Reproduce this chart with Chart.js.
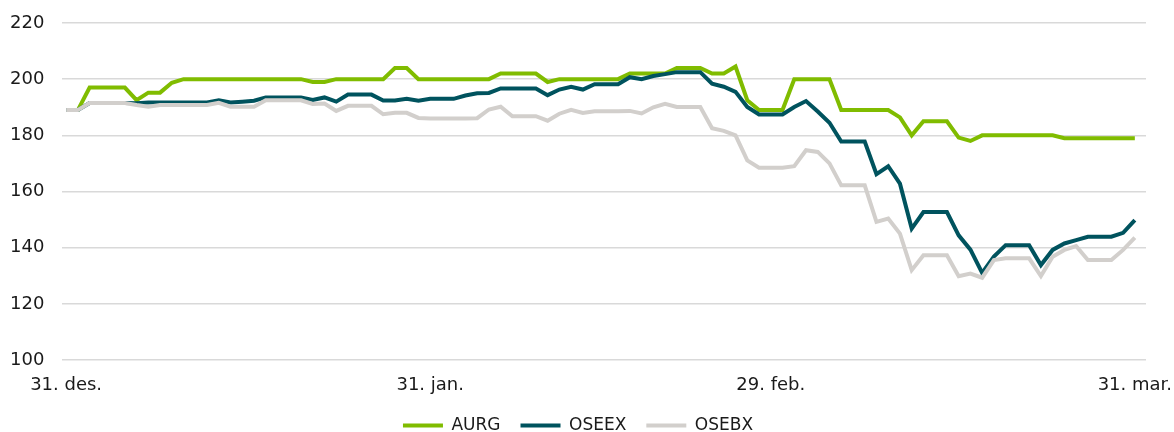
<!DOCTYPE html>
<html>
<head>
<meta charset="utf-8">
<script src="https://cdn.jsdelivr.net/npm/chart.js@4/dist/chart.umd.min.js"></script>
<style>
  html, body { margin: 0; padding: 0; background: #ffffff; }
  #wrap { width: 1174px; height: 432px; position: relative; }
</style>
</head>
<body>
<div id="wrap"><canvas id="c" width="1174" height="432"></canvas></div>
<script>
// Daily observations 31.12.2019 – 31.03.2020 (weekends carry the previous close)
const startDate = new Date(2019, 11, 31);
const dates = [];
for (let i = 0; i < 92; i++) {
  const d = new Date(startDate.getTime());
  d.setDate(d.getDate() + i);
  dates.push(d.toISOString().slice(0, 10));
}

const tickIndex  = [0, 31, 60, 91];
const tickLabels = ['31. des.', '31. jan.', '29. feb.', '31. mar.'];

const seriesNames = ['AURG', 'OSEEX', 'OSEBX'];

const AURG = [
  189, 189, 197, 197, 197, 197, 192.5, 195.2, 195.2, 198.7,
  200, 200, 200, 200, 200, 200, 200, 200, 200, 200,
  200, 199, 199, 200, 200, 200, 200, 200, 204, 204,
  200, 200, 200, 200, 200, 200, 200, 202, 202, 202,
  202, 199, 200, 200, 200, 200, 200, 200, 202, 202,
  202, 202, 204, 204, 204, 202, 202, 204.5, 192.5, 189,
  189, 189, 200, 200, 200, 200, 189, 189, 189, 189,
  189, 186.4, 180, 185, 185, 185, 179.2, 178, 180, 180,
  180, 180, 180, 180, 180, 179, 179, 179, 179, 179,
  179, 179
];

const OSEEX = [
  189, 189, 191.5, 191.5, 191.5, 191.5, 191.4, 191.7, 191.7, 191.7,
  191.7, 191.7, 191.7, 192.5, 191.7, 192, 192.3, 193.5, 193.5, 193.5,
  193.5, 192.6, 193.5, 192, 194.5, 194.5, 194.5, 192.4, 192.4, 193,
  192.3, 193, 193, 193, 194.2, 195, 195.1, 196.7, 196.7, 196.7,
  196.7, 194.3, 196.3, 197.3, 196.3, 198.2, 198.2, 198.2, 200.7, 200,
  201.1, 201.8, 202.5, 202.5, 202.5, 198.4, 197.3, 195.5, 190.1, 187.4,
  187.4, 187.4, 190.1, 192.2, 188.5, 184.5, 177.8, 177.8, 177.8, 166.2,
  169, 162.8, 146.8, 152.7, 152.7, 152.7, 144.4, 139.3, 131, 136.8,
  140.9, 140.9, 140.9, 133.8, 139.2, 141.5, 142.7, 143.9, 143.9, 143.9,
  145.3, 149.8
];

const OSEBX = [
  189, 189, 191.5, 191.5, 191.5, 191.5, 190.8, 190.2, 190.8, 190.8,
  190.8, 190.8, 190.8, 191.6, 190.2, 190.2, 190.2, 192.5, 192.5, 192.5,
  192.5, 191.2, 191.3, 188.7, 190.5, 190.5, 190.5, 187.5, 188, 188,
  186.2, 186, 186, 186, 186, 186.1, 189.2, 190.2, 186.8, 186.8,
  186.8, 185.2, 187.7, 189.1, 188, 188.6, 188.6, 188.6, 188.7, 187.8,
  190, 191.2, 190.1, 190.1, 190.1, 182.5, 181.6, 180, 171.1, 168.5,
  168.5, 168.5, 169, 174.7, 174.1, 170, 162.2, 162.2, 162.2, 149.2,
  150.4, 145, 132, 137.3, 137.3, 137.3, 129.8, 130.8, 129.3, 135.6,
  136.2, 136.2, 136.2, 129.9, 136.8, 139.2, 140.6, 135.6, 135.6, 135.6,
  139.2, 143.6
];

const yMin = 100, yMax = 220, yStep = 20;

const toPoints = arr => arr.map((v, i) => ({ x: i, y: v }));
const FONT = "'DejaVu Sans', sans-serif";

new Chart(document.getElementById('c'), {
  type: 'line',
  data: {
    datasets: [
      { label: seriesNames[0], data: toPoints(AURG),  borderColor: '#80bc00', backgroundColor: '#80bc00', borderWidth: 4, order: 3 },
      { label: seriesNames[1], data: toPoints(OSEEX), borderColor: '#00535e', backgroundColor: '#00535e', borderWidth: 4, order: 2 },
      { label: seriesNames[2], data: toPoints(OSEBX), borderColor: '#d2cfcc', backgroundColor: '#d2cfcc', borderWidth: 4, order: 1 }
    ]
  },
  options: {
    responsive: false,
    animation: false,
    devicePixelRatio: 1,
    layout: { padding: { top: 23, right: 28, bottom: -12, left: 10 } },
    elements: {
      line: { borderWidth: 4, tension: 0, borderJoinStyle: 'miter', borderCapStyle: 'butt', fill: false },
      point: { radius: 0, hoverRadius: 0 }
    },
    scales: {
      x: {
        type: 'linear',
        min: -0.35,
        max: 91.95,
        grid: { display: false, drawTicks: true, tickLength: 15 },
        border: { display: false },
        afterBuildTicks: s => { s.ticks = tickIndex.map(v => ({ value: v })); },
        afterFit: s => { s.height = 37; },
        ticks: {
          autoSkip: false,
          maxRotation: 0,
          padding: 0,
          color: '#1a1a1a',
          font: { family: FONT, size: 18 },
          callback: v => { const k = tickIndex.indexOf(v); return k >= 0 ? tickLabels[k] : ''; }
        }
      },
      y: {
        min: yMin,
        max: yMax,
        grid: { color: '#d9d9d9', lineWidth: 1.5, drawTicks: false },
        border: { display: false },
        afterFit: s => { s.width = 52; },
        ticks: {
          stepSize: yStep,
          padding: 0,
          crossAlign: 'far',
          color: '#1a1a1a',
          font: { family: FONT, size: 18 }
        }
      }
    },
    plugins: {
      legend: {
        position: 'bottom',
        labels: {
          usePointStyle: true,
          pointStyle: 'line',
          pointStyleWidth: 40,
          padding: 20,
          color: '#1a1a1a',
          font: { family: FONT, size: 17 },
          sort: (a, b) => a.datasetIndex - b.datasetIndex
        }
      },
      tooltip: { enabled: false }
    }
  }
});
</script>
</body>
</html>
